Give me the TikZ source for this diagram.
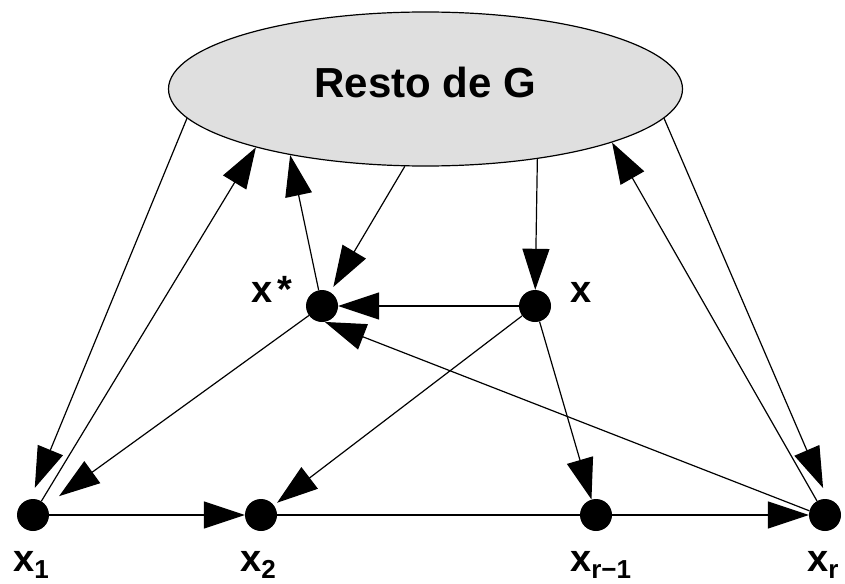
\documentclass[tikz,border=0pt]{standalone}
\usepackage{fontspec}
\setmainfont{Liberation Sans}
\usetikzlibrary{arrows.meta,shapes.geometric}
\newcommand\lsub[1]{\raisebox{-7pt}{\fontsize{26}{28}\selectfont #1}}
\begin{document}
\begin{tikzpicture}[x=1pt,y=-1pt,
  vtx/.style={circle,fill=black,minimum size=32pt,inner sep=0pt},
  lab/.style={anchor=base west,inner sep=0pt,font=\bfseries\fontsize{38}{40}\selectfont},
  arr/.style={-{Triangle[length=41pt,width=27pt]},line width=1.2pt},
  ln/.style={line width=1.2pt}]
\useasboundingbox (0,0) rectangle (845,583);
\node[ellipse,draw,line width=1.2pt,fill=gray!25,minimum width=514pt,minimum height=154pt,
  inner sep=0pt,text depth=13pt,font=\bfseries\fontsize{42}{44}\selectfont] (R) at (425.5,89) {Resto de G};
\node[vtx] (x1) at (33,515) {};
\node[vtx] (x2) at (261,515) {};
\node[vtx] (xr1) at (596,515) {};
\node[vtx] (xr) at (825,515) {};
\node[vtx] (xs) at (322,306) {};
\node[vtx] (x) at (535,306) {};
\node[lab] (lx1) at (13,571) {x\lsub{1}};
\node[lab] (lx2) at (240,571) {x\lsub{2}};
\node[lab] (lxr1) at (570,571) {x\lsub{r−1}};
\node[lab] (lxr) at (807,571) {x\lsub{r}};
\node[lab] (lxs) at (251,302) {x\kern5pt*};
\node[lab] (lx) at (570,302) {x};
\draw[arr] (x1) -- (x2);
\draw[ln] (x2) -- (xr1);
\draw[arr] (xr1) -- (xr);
\draw[arr] (x) -- (xs);
\draw[arr,shorten >=4pt] (x) -- (x2);
\draw[arr] (x) -- (xr1);
\draw[arr] (xr.165) -- (xs.-80);
\draw[arr,shorten >=16pt] (xs) -- (x1);
\draw[arr] (R.-32.5) -- (x);
\draw[arr,shorten >=6pt] (R.255) -- (xs);
\draw[arr] (xs) -- (R.206.1);
\draw[arr,shorten >=12pt] (R.187) -- (x1.100);
\draw[arr] (x1) -- (R.199.9);
\draw[arr,shorten >=12pt] (R.-7.2) -- (xr.80);
\draw[arr] (xr) -- (R.-16.8);
\end{tikzpicture}
\end{document}
